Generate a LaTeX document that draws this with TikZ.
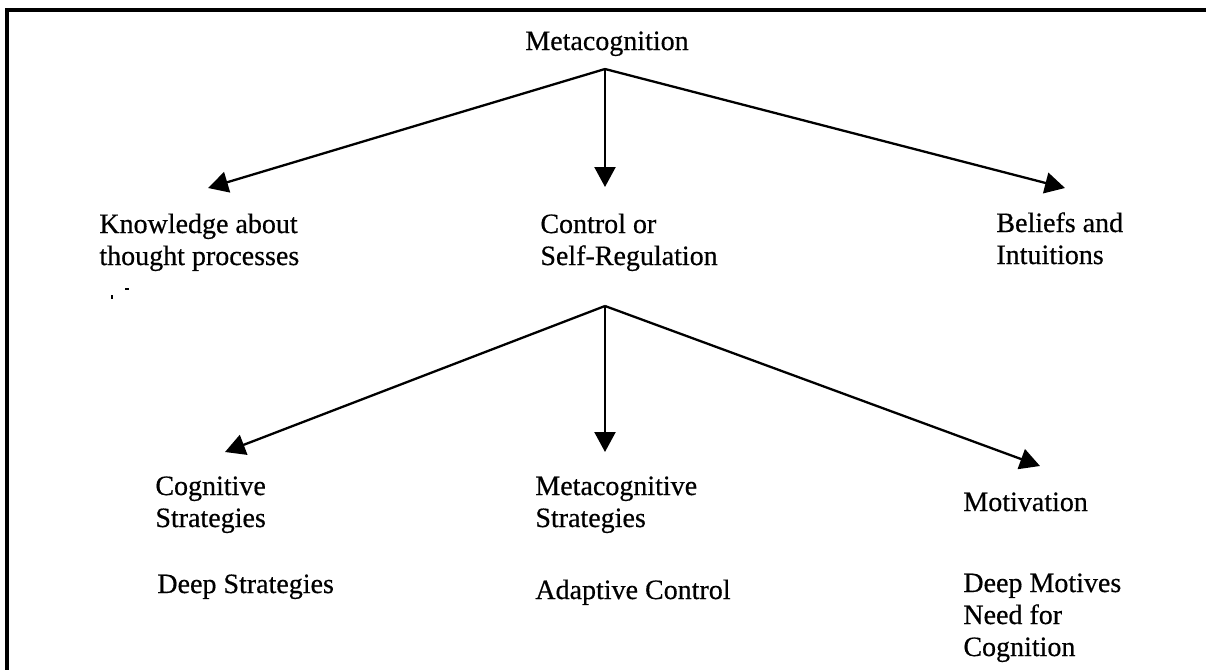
\documentclass[tikz,border=0pt]{standalone}
\usepackage{fontspec}
\setmainfont{Liberation Serif}[FakeBold=0.5]
\usetikzlibrary{arrows.meta}
\begin{document}
\begin{tikzpicture}[x=0.5pt,y=-0.5pt,
  lbl/.style={anchor=base west,inner sep=0pt,font=\fontsize{14}{16}\selectfont},
  ttl/.style={anchor=base,inner sep=0pt,font=\fontsize{14}{16}\selectfont},
  conn/.style={line width=1.15pt,-{Triangle[length=10pt,width=10.5pt]}},
  frame/.style={line width=1.7pt}]
\useasboundingbox (0,0) rectangle (1206,670);

% page frame (top and left edges)
\draw[frame] (7,672) -- (7,10) -- (1208,10);

% top level
\node[ttl] (meta) at (607,50) {Metacognition};
\coordinate (apex1) at (605,69);

\node[lbl] (know) at (99,233) {\begin{tabular}[t]{@{}l@{}}Knowledge about\\thought processes\end{tabular}};
\node[lbl] (ctrl) at (540,233) {\begin{tabular}[t]{@{}l@{}}Control or\\Self-Regulation\end{tabular}};
\node[lbl] (beli) at (996,232) {\begin{tabular}[t]{@{}l@{}}Beliefs and\\Intuitions\end{tabular}};

\coordinate (know-in) at (208,188);
\coordinate (ctrl-in) at (605,187);
\coordinate (beli-in) at (1065,188);

\draw[conn] (apex1) -- (know-in);
\draw[conn] (apex1) -- (ctrl-in);
\draw[conn] (apex1) -- (beli-in);

% second level
\coordinate (apex2) at (605,306);

\node[lbl] (cogs) at (155,495) {\begin{tabular}[t]{@{}l@{}}Cognitive\\Strategies\end{tabular}};
\node[lbl] (mets) at (535,495) {\begin{tabular}[t]{@{}l@{}}Metacognitive\\Strategies\end{tabular}};
\node[lbl] (moti) at (963,511) {Motivation};

\node[lbl] (deeps) at (157,593) {Deep Strategies};
\node[lbl] (adapt) at (535,599) {Adaptive Control};
\node[lbl] (deepm) at (963,592) {\begin{tabular}[t]{@{}l@{}}Deep Motives\\Need for\\Cognition\end{tabular}};

\coordinate (cogs-in) at (225,452);
\coordinate (mets-in) at (605,452);
\coordinate (moti-in) at (1040,466);

\draw[conn] (apex2) -- (cogs-in);
\draw[conn] (apex2) -- (mets-in);
\draw[conn] (apex2) -- (moti-in);

% small specks below the first label
\fill (111,295) rectangle (113,299);
\fill (125,288) rectangle (129,290);
\end{tikzpicture}
\end{document}
